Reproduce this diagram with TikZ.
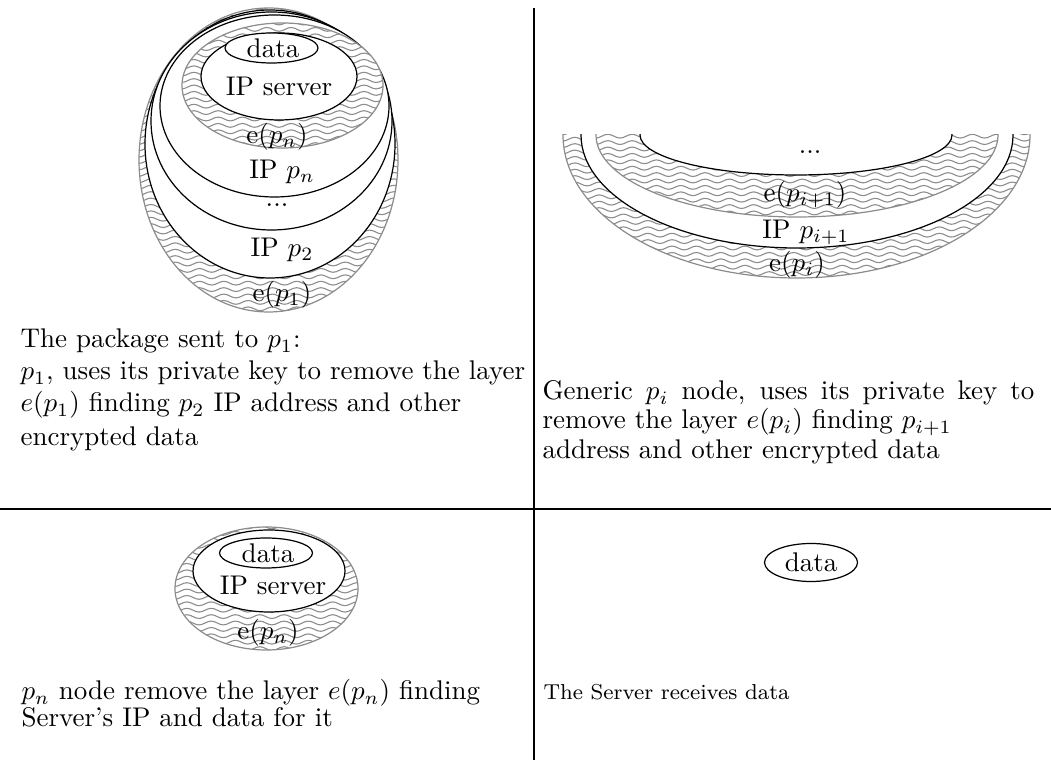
\documentclass[tikz,border=0pt]{standalone}
\usetikzlibrary{decorations.pathmorphing}
\tikzset{
  layerline/.style={draw=black, line width=0.45pt, fill=white},
  layergray/.style={draw=black!45, line width=0.45pt},
  wave/.style={draw=black!45, line width=0.4pt, decorate,
    decoration={snake, amplitude=0.7pt, segment length=9pt}},
  divider/.style={line width=0.8pt},
  lbl/.style={inner sep=0pt},
  txt/.style={inner sep=0pt, anchor=base west},
}
% an encrypted layer: white ellipse filled with grey wavy lines
\newcommand\wavylayer[4]{%
  \fill[white] (#1,#2) ellipse [x radius=#3, y radius=#4];
  \begin{scope}
    \clip (#1,#2) ellipse [x radius=#3, y radius=#4];
    \pgfmathsetmacro\wya{#2-#4}
    \pgfmathsetmacro\wyb{#2-#4+6.4}
    \pgfmathsetmacro\wyc{#2+#4}
    \pgfmathsetmacro\wxa{#1-#3-20}
    \pgfmathsetmacro\wxb{#1+#3+20}
    \foreach \wy in {\wya,\wyb,...,\wyc}
      \draw[wave] (\wxa,\wy) -- (\wxb,\wy);
  \end{scope}
  \draw[layergray] (#1,#2) ellipse [x radius=#3, y radius=#4];
}
% a plain address layer
\newcommand\plainlayer[4]{%
  \draw[layerline] (#1,#2) ellipse [x radius=#3, y radius=#4];
}
\begin{document}
\begin{tikzpicture}[x=0.37037pt, y=-0.37037pt]
\useasboundingbox (0,0) rectangle (1051,760);

% ---- the full onion sent to p1
\wavylayer{268.5}{160}{129.5}{152}
\plainlayer{270}{144}{125}{134}
\plainlayer{271.5}{121}{120.5}{109}
\plainlayer{274.5}{106}{114.5}{91}
\wavylayer{282.5}{85.5}{100.5}{62.5}
\plainlayer{279}{76.5}{78}{43.5}
\plainlayer{271.5}{48}{46.5}{15}
\node[lbl] (dataA) at (273,48) {data};
\node[lbl] (ipsA) at (279,86) {IP server};
\node[lbl] (epnA) at (277,137) {e$(p_n)$};
\node[lbl] (ippnA) at (282,172) {IP $p_n$};
\node[lbl] (dotsA) at (277,205) {...};
\node[lbl] (ipp2A) at (282,250) {IP $p_2$};
\node[lbl] (ep1A) at (282,295) {e$(p_1)$};

% ---- generic node: lower half of the onion
\begin{scope}
  \clip (540,135) rectangle (1051,300);
  \wavylayer{796.5}{135}{233.5}{143}
  \plainlayer{797}{135}{216}{113}
  \wavylayer{797}{135}{201}{82}
  \plainlayer{796}{135}{156}{40}
\end{scope}
\node[lbl] (dotsB) at (810,152) {...};
\node[lbl] (epiB) at (805,195) {e$(p_{i+1})$};
\node[lbl] (ippiB) at (806,232) {IP $p_{i+1}$};
\node[lbl] (epB) at (797,265) {e$(p_i)$};

% ---- last relay p_n
\wavylayer{266.5}{588.5}{91.5}{61.5}
\plainlayer{269}{571}{76}{41}
\plainlayer{266}{553}{46.5}{15}
\node[lbl] (dataC) at (268,553) {data};
\node[lbl] (ipsC) at (273,585) {IP server};
\node[lbl] (epnC) at (268,633) {e$(p_n)$};

% ---- server
\plainlayer{811}{562.5}{46.5}{19}
\node[lbl] (dataD) at (811,562) {data};

% ---- descriptions
\node[txt] (tA1) at (20,348) {The package sent to $p_1$:};
\node[txt] (tA2) at (20,380) {$p_1$, uses its private key to remove the layer};
\node[txt] (tA3) at (20,412) {$e(p_1)$ finding $p_2$ IP address and other};
\node[txt] (tA4) at (20,446) {encrypted data};

\node[txt] (tB1) at (542,400) {\makebox[182.2pt][s]{Generic $p_i$ node, uses its private key to}};
\node[txt] (tB2) at (542,429) {remove the layer $e(p_i)$ finding $p_{i+1}$};
\node[txt] (tB3) at (542,459) {address and other encrypted data};

\node[txt] (tC1) at (21,700) {$p_n$ node remove the layer $e(p_n)$ finding};
\node[txt] (tC2) at (21,727) {Server's IP and data for it};

\node[txt, font=\footnotesize] (tD1) at (543,700) {The Server receives data};

% ---- quadrant dividers
\draw[divider] (534,8) -- (534,760);
\draw[divider] (0,509) -- (1051,509);
\end{tikzpicture}
\end{document}
